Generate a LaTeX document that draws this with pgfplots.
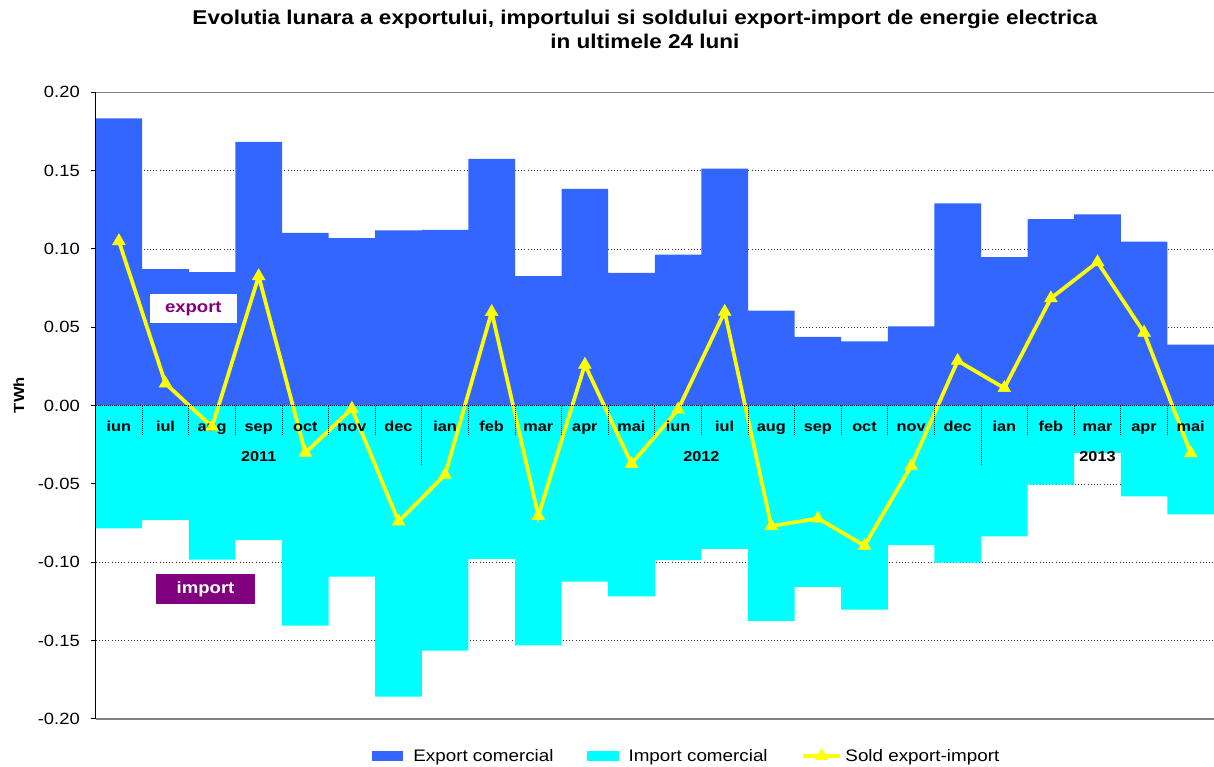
\documentclass[border=0pt]{standalone}
\usepackage{pgfplots}
\pgfplotsset{compat=1.18}
\usepackage{pgfplotstable}
\usepackage{fontspec}
\setmainfont{Liberation Sans}[FakeStretch=1.13]
\definecolor{exportblue}{HTML}{3366FF}
\definecolor{importcyan}{HTML}{00FFFF}
\definecolor{soldyellow}{HTML}{FFFF00}
\definecolor{lblpurple}{HTML}{800080}
\pgfplotsset{
  soldlegend/.style={legend image code/.code={%
    \draw[mark repeat=2,mark phase=2,##1] plot coordinates {(0pt,0pt) (14pt,0pt) (28pt,0pt)};
    \path (30.5pt,0pt);}},
  boxlegend/.style={legend image code/.code={%
    \fill[#1] (0pt,-3.75pt) rectangle (23.7pt,3.75pt);
    \path (31.2pt,0pt);}},
}

\pgfplotstableread{
x exp imp sold
0 0.1834 -0.0783 0.1050
1 0.0871 -0.0730 0.0141
2 0.0852 -0.0983 -0.0135
3 0.1683 -0.0857 0.0826
4 0.1103 -0.1404 -0.0301
5 0.1069 -0.1091 -0.0020
6 0.1118 -0.1857 -0.0740
7 0.1122 -0.1564 -0.0441
8 0.1575 -0.0979 0.0598
9 0.0827 -0.1530 -0.0704
10 0.1384 -0.1123 0.0261
11 0.0847 -0.1217 -0.0372
12 0.0963 -0.0987 -0.0025
13 0.1513 -0.0915 0.0599
14 0.0606 -0.1374 -0.0769
15 0.0438 -0.1157 -0.0720
16 0.0410 -0.1302 -0.0894
17 0.0506 -0.0891 -0.0386
18 0.1290 -0.1002 0.0286
19 0.0948 -0.0834 0.0112
20 0.1190 -0.0504 0.0685
21 0.1220 -0.0302 0.0916
22 0.1046 -0.0579 0.0466
23 0.0389 -0.0694 -0.0304
}\datatable

\begin{document}
\begin{tikzpicture}
\path[use as bounding box] (-71.7pt,-36pt) rectangle (838.8pt,539.2pt);
\begin{axis}[
  scale only axis,
  width=838.8pt, height=470pt,
  xmin=-0.5, xmax=23.5,
  ymin=-0.2, ymax=0.2,
  clip=false,
  separate axis lines,
  axis x line*=box,
  axis y line*=left,
  x axis line style={draw=gray, line width=1pt},
  y axis line style={draw=black, line width=0.9pt, -},
  xtick=\empty,
  ytick={-0.2,-0.15,-0.1,-0.05,0,0.05,0.1,0.15,0.2},
  ytick pos=left,
  tick align=outside,
  major tick length=3.7pt,
  ytick style={black, line width=0.8pt},
  ymajorgrids,
  major grid style={black!80, dotted, line width=0.5pt},
  yticklabel style={font=\fontsize{12.2}{14}\selectfont, inner sep=0pt, xshift=-8pt,
    /pgf/number format/fixed, /pgf/number format/fixed zerofill,
    /pgf/number format/precision=2},
  /pgf/number format/assume math mode=true,
  legend style={draw=none, fill=none, inner sep=0pt, outer sep=0pt,
    at={(0.2469,-0.0589)}, anchor=west,
    font=\fontsize{12.5}{14}\selectfont,
    nodes={inner sep=0pt},
    /tikz/every even column/.append style={column sep=25pt}},
  legend columns=3,
]
\addplot[ybar, bar width=1, bar shift=0pt, fill=exportblue, draw=none, boxlegend=exportblue]
  table[x=x, y=exp] {\datatable};
\addlegendentry{Export comercial}
\addplot[ybar, bar width=1, bar shift=0pt, fill=importcyan, draw=none, boxlegend=importcyan]
  table[x=x, y=imp] {\datatable};
\addlegendentry{Import comercial}
\addplot[soldyellow, line width=2.8pt, mark=triangle*, mark size=5.5pt,
  mark options={solid, fill=soldyellow, draw=soldyellow, line width=0.4pt},
  soldlegend]
  table[x=x, y=sold] {\datatable};
\addlegendentry{Sold export-import}

% zero line and category separators
\draw[black, densely dotted, line width=0.5pt] (axis cs:-0.5,0) -- (axis cs:23.5,0);
\pgfplotsinvokeforeach{0.5,1.5,2.5,3.5,4.5,5.5,7.5,8.5,9.5,10.5,11.5,12.5,13.5,14.5,15.5,16.5,17.5,19.5,20.5,21.5,22.5}{
  \draw[black, densely dotted, line width=0.5pt] (axis cs:#1,0) -- (axis cs:#1,-0.0188);
}
\draw[black, densely dotted, line width=0.5pt] (axis cs:6.5,0) -- (axis cs:6.5,-0.038);
\draw[black, densely dotted, line width=0.5pt] (axis cs:18.5,0) -- (axis cs:18.5,-0.038);
\draw[black, line width=0.9pt] (axis cs:-0.5,-0.2) -- (axis cs:-0.5,0.2);

% month labels
\tikzset{mlab/.style={font=\bfseries\fontsize{10.8}{12}\selectfont, anchor=base, inner sep=0pt}}
\node[mlab] at (axis cs:0,-0.0167) {iun};
\node[mlab] at (axis cs:1,-0.0167) {iul};
\node[mlab] at (axis cs:2,-0.0167) {aug};
\node[mlab] at (axis cs:3,-0.0167) {sep};
\node[mlab] at (axis cs:4,-0.0167) {oct};
\node[mlab] at (axis cs:5,-0.0167) {nov};
\node[mlab] at (axis cs:6,-0.0167) {dec};
\node[mlab] at (axis cs:7,-0.0167) {ian};
\node[mlab] at (axis cs:8,-0.0167) {feb};
\node[mlab] at (axis cs:9,-0.0167) {mar};
\node[mlab] at (axis cs:10,-0.0167) {apr};
\node[mlab] at (axis cs:11,-0.0167) {mai};
\node[mlab] at (axis cs:12,-0.0167) {iun};
\node[mlab] at (axis cs:13,-0.0167) {iul};
\node[mlab] at (axis cs:14,-0.0167) {aug};
\node[mlab] at (axis cs:15,-0.0167) {sep};
\node[mlab] at (axis cs:16,-0.0167) {oct};
\node[mlab] at (axis cs:17,-0.0167) {nov};
\node[mlab] at (axis cs:18,-0.0167) {dec};
\node[mlab] at (axis cs:19,-0.0167) {ian};
\node[mlab] at (axis cs:20,-0.0167) {feb};
\node[mlab] at (axis cs:21,-0.0167) {mar};
\node[mlab] at (axis cs:22,-0.0167) {apr};
\node[mlab] at (axis cs:23,-0.0167) {mai};
\node[mlab] at (axis cs:3,-0.0354) {2011};
\node[mlab] at (axis cs:12.5,-0.0354) {2012};
\node[mlab] at (axis cs:21,-0.0354) {2013};

% annotation boxes
\node[fill=white, text=lblpurple, font=\bfseries\fontsize{12.3}{14}\selectfont,
  minimum width=65pt, minimum height=21.5pt, inner sep=0pt] at (axis cs:1.597,0.062) {export};
\node[fill=lblpurple, text=white, font=\bfseries\fontsize{12.3}{14}\selectfont,
  minimum width=74pt, minimum height=22.3pt, inner sep=0pt] at (axis cs:1.86,-0.117) {import};

\node[rotate=90, font=\bfseries\fontsize{11}{13}\selectfont, anchor=center] at ([xshift=-57.5pt]axis cs:-0.5,0.0067) {TWh};
\end{axis}
\node[anchor=base, font=\bfseries\fontsize{14.95}{17}\selectfont, inner sep=0pt] at (412pt,520.5pt) {Evolutia lunara a exportului, importului si soldului export-import de energie electrica};
\node[anchor=base, font=\bfseries\fontsize{14.95}{17}\selectfont, inner sep=0pt] at (412pt,503pt) {in ultimele 24 luni};
\end{tikzpicture}
\end{document}
